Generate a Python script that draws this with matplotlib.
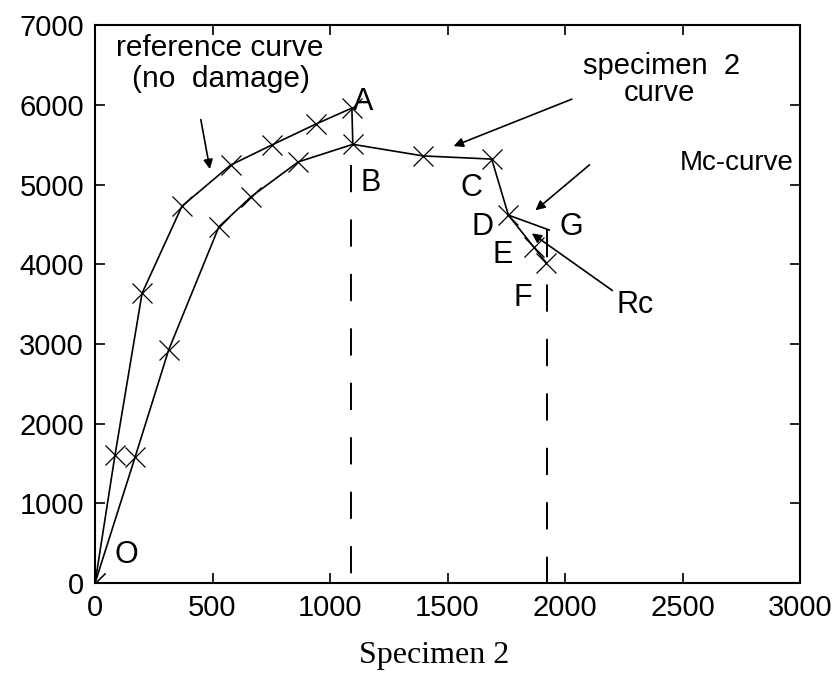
import matplotlib.pyplot as plt

# reference curve (no damage)
ref_x = [0, 85, 200, 370, 577, 751, 940, 1093]
ref_y = [0, 1606, 3635, 4730, 5245, 5495, 5760, 5960]

# specimen 2 curve
spec_x = [0, 171, 313, 527, 665, 865, 1097, 1396, 1688, 1759, 1866, 1920]
spec_y = [0, 1585, 2923, 4470, 4850, 5285, 5505, 5360, 5320, 4617, 4220, 4020]

# Mc-curve segment (D to G)
mc_x = [1759, 1933]
mc_y = [4617, 4430]

# point labels
labels = ['O', 'A', 'B', 'C', 'D', 'E', 'F', 'G']
label_x = [135, 1140, 1173, 1600, 1650, 1736, 1821, 2027]
label_y = [351, 6040, 5018, 4955, 4470, 4115, 3575, 4470]

xticks = [0, 500, 1000, 1500, 2000, 2500, 3000]
yticks = [0, 1000, 2000, 3000, 4000, 5000, 6000, 7000]

plt.rcParams['font.family'] = ['Liberation Sans', 'DejaVu Sans']

fig = plt.figure(figsize=(8.38, 7), dpi=100)
ax = fig.add_axes([0.1134, 0.167, 0.8413, 0.797])

ax.plot(ref_x, ref_y, color='black', lw=1.2, marker='x', ms=14, mew=0.9)
ax.plot(spec_x, spec_y, color='black', lw=1.2, marker='x', ms=14, mew=0.9)
ax.plot(mc_x, mc_y, color='black', lw=1.2)

# A-B drop
ax.plot([1093, 1097], [5960, 5505], color='black', lw=1.2)

# dashed verticals at B and F
ax.plot([1090, 1090], [5245, 0], color='black', lw=1.4, ls=(0, (14, 14)))
ax.plot([1925, 1925], [4430, 0], color='black', lw=1.4, ls=(0, (14, 14)))

for t, x, y in zip(labels, label_x, label_y):
    ax.text(x, y, t, fontsize=22, ha='center', va='center')

arrow = dict(arrowstyle='-|>', color='black', lw=1.2, mutation_scale=14)

ax.text(529, 6720, 'reference curve', fontsize=21.5, ha='center', va='center')
ax.text(538, 6330, '(no  damage)', fontsize=21.5, ha='center', va='center')
ax.annotate('', xy=(491, 5160), xytext=(448, 5850), arrowprops=arrow)

ax.text(2411, 6490, 'specimen  2', fontsize=21, ha='center', va='center')
ax.text(2400, 6150, 'curve', fontsize=21, ha='center', va='center')
ax.annotate('', xy=(1515, 5470), xytext=(2040, 6085), arrowprops=arrow)

ax.text(2731, 5270, 'Mc-curve', fontsize=20, ha='center', va='center')
ax.annotate('', xy=(1865, 4655), xytext=(2113, 5270), arrowprops=arrow)

ax.text(2300, 3488, 'Rc', fontsize=22, ha='center', va='center')
ax.annotate('', xy=(1849, 4408), xytext=(2211, 3651), arrowprops=arrow)

ax.set_xlim(0, 3000)
ax.set_ylim(0, 7000)
ax.set_xticks(xticks)
ax.set_yticks(yticks)
ax.tick_params(direction='in', length=7, width=1.2, top=True, right=True,
               labelsize=21, pad=8)
for s in ax.spines.values():
    s.set_linewidth(1.5)

fig.text(0.518, 0.063, 'Specimen 2', fontsize=23, family='Liberation Serif',
         ha='center', va='center')

fig.savefig('out.png', dpi=100)
